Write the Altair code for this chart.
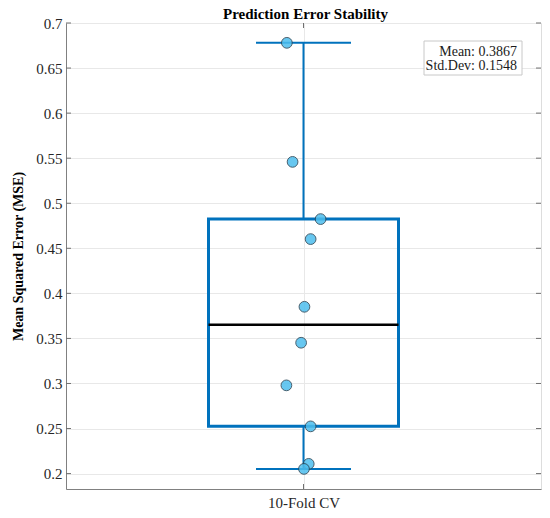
import altair as alt
import pandas as pd

# ---- data ----
fold_mse = [0.678, 0.5459, 0.4824, 0.4602, 0.3851, 0.3452, 0.2979, 0.2524, 0.2108, 0.2052]
fold_jitter = [-0.035, -0.023, 0.036, 0.015, 0.002, -0.005, -0.036, 0.015, 0.011, 0.001]
category_label = "10-Fold CV"
box_q1 = [0.2524]
box_median = [0.3652]
box_q3 = [0.4824]
whisker_low = [0.2052]
whisker_high = [0.678]
stat_mean = 0.3867
stat_std = 0.1548
y_ticks = [0.2, 0.25, 0.3, 0.35, 0.4, 0.45, 0.5, 0.55, 0.6, 0.65, 0.7]
chart_title = "Prediction Error Stability"

# ---- style constants ----
BLUE = "#0072BD"
SERIF = "Liberation Serif"
BOX_HALF = 0.2
CAP_HALF = 0.1
W, H = 475, 466

pts = pd.DataFrame({"mse": fold_mse, "jit": fold_jitter})
pts["x"] = 1 + pts["jit"]
box = pd.DataFrame({"q1": box_q1, "med": box_median, "q3": box_q3,
                    "lo": whisker_low, "hi": whisker_high, "c": [1.0]})
ticks = pd.DataFrame({"t": y_ticks})

xscale = alt.Scale(domain=[0.5, 1.5], nice=False, zero=False)
yscale = alt.Scale(domain=[0.1829, 0.7], nice=False, zero=False)

xaxis = alt.Axis(values=[1], labelExpr=f"'{category_label}'", title=None,
                 grid=True, gridColor="#e8e8e8", ticks=False, labelPadding=6,
                 labelFont=SERIF, labelFontSize=15, labelColor="#262626",
                 domainColor="#808080")
yaxis = alt.Axis(values=y_ticks, format=".2~f", title="Mean Squared Error (MSE)",
                 grid=True, gridColor="#e8e8e8", ticks=False, labelPadding=4,
                 labelFont=SERIF, labelFontSize=15, labelColor="#262626",
                 domainColor="#808080", titleFont=SERIF, titleFontSize=14,
                 titleFontWeight="bold", titleColor="black", titlePadding=10)

base_box = alt.Chart(box).transform_calculate(
    xl=f"datum.c - {BOX_HALF}", xr=f"datum.c + {BOX_HALF}",
    cl=f"datum.c - {CAP_HALF}", cr=f"datum.c + {CAP_HALF}")

axes_layer = alt.Chart(pts).mark_point(opacity=0).encode(
    x=alt.X("x:Q", scale=xscale, axis=xaxis),
    y=alt.Y("mse:Q", scale=yscale, axis=yaxis))

rect = base_box.mark_rect(fillOpacity=0, stroke=BLUE, strokeWidth=3).encode(
    x=alt.X("xl:Q", scale=xscale), x2="xr:Q",
    y=alt.Y("q1:Q", scale=yscale), y2="q3:Q")

wh_up = base_box.mark_rule(color=BLUE, strokeWidth=2).encode(
    x=alt.X("c:Q", scale=xscale), y=alt.Y("q3:Q", scale=yscale), y2="hi:Q")
wh_lo = base_box.mark_rule(color=BLUE, strokeWidth=2).encode(
    x=alt.X("c:Q", scale=xscale), y=alt.Y("lo:Q", scale=yscale), y2="q1:Q")
cap_hi = base_box.mark_rule(color=BLUE, strokeWidth=2).encode(
    x=alt.X("cl:Q", scale=xscale), x2="cr:Q", y=alt.Y("hi:Q", scale=yscale))
cap_lo = base_box.mark_rule(color=BLUE, strokeWidth=2).encode(
    x=alt.X("cl:Q", scale=xscale), x2="cr:Q", y=alt.Y("lo:Q", scale=yscale))
median = base_box.mark_rule(color="black", strokeWidth=2.5).encode(
    x=alt.X("xl:Q", scale=xscale), x2="xr:Q", y=alt.Y("med:Q", scale=yscale))

points = alt.Chart(pts).mark_circle(size=115, color="#4DBEEE", opacity=0.85,
                                    stroke="#2a4556", strokeWidth=1).encode(
    x=alt.X("x:Q", scale=xscale), y=alt.Y("mse:Q", scale=yscale))

tick_col = "#707070"
lt = alt.Chart(ticks).mark_rule(color=tick_col).encode(
    x=alt.value(0), x2=alt.value(5), y=alt.Y("t:Q", scale=yscale))
rt = alt.Chart(ticks).mark_rule(color=tick_col).encode(
    x=alt.value(W - 5), x2=alt.value(W), y=alt.Y("t:Q", scale=yscale))
bt = base_box.mark_rule(color=tick_col).encode(
    x=alt.X("c:Q", scale=xscale), y=alt.value(H - 5), y2=alt.value(H))
tt = base_box.mark_rule(color=tick_col).encode(
    x=alt.X("c:Q", scale=xscale), y=alt.value(0), y2=alt.value(5))

title_df = pd.DataFrame({"t": [chart_title]})
title_mark = alt.Chart(title_df).mark_text(align="center", baseline="alphabetic",
                                           font=SERIF, fontSize=15, fontWeight="bold",
                                           color="black").encode(
    x=alt.value(W / 2 + 2), y=alt.value(-4), text="t:N")

stats = pd.DataFrame({"line": [f"Mean: {stat_mean:.4f}", f"Std.Dev: {stat_std:.4f}"],
                      "i": [0, 1]})
legend_box = alt.Chart(stats.head(1)).mark_rect(fill="white", stroke="#c8c8c8",
                                               strokeWidth=1).encode(
    x=alt.value(358), x2=alt.value(456), y=alt.value(18), y2=alt.value(52))
legend_text = alt.Chart(stats).mark_text(align="right", baseline="alphabetic",
                                         font=SERIF, fontSize=14, color="#1a1a1a").transform_calculate(
    ypix="33 + datum.i * 13.5").encode(
    x=alt.value(451), y=alt.Y("ypix:Q", scale=None), text="line:N")

chart = alt.layer(axes_layer, rect, wh_up, wh_lo, cap_hi, cap_lo, median, points,
                  lt, rt, bt, tt, legend_box, legend_text, title_mark).properties(
    width=W, height=H,
    autosize="none",
    padding={"left": 58, "top": 15, "right": 1, "bottom": 21},
).configure_view(stroke="#808080", strokeWidth=1).configure(background="white")

chart.save("out.html", embed_options={"renderer": "svg", "actions": False})
